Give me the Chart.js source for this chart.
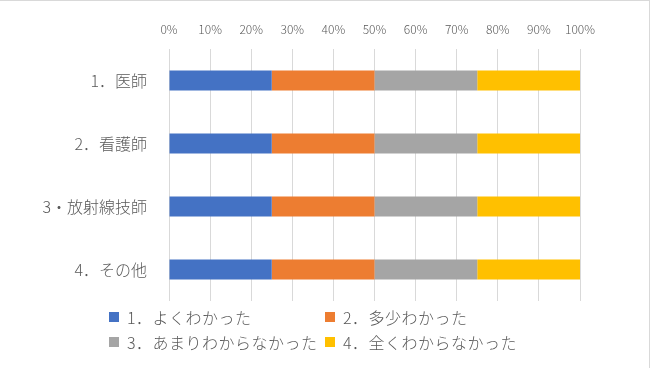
<!DOCTYPE html>
<html>
<head>
<meta charset="utf-8">
<script src="https://cdn.jsdelivr.net/npm/chart.js@4"></script>
<style>
  body { margin: 0; background: #fff; }
  #wrap { position: relative; width: 650px; height: 368px; box-sizing: border-box; border-top: 1px solid #d9d9d9; border-right: 1px solid #d9d9d9; }
  #legend { position: absolute; left: 109px; top: 306px; display: grid; grid-template-columns: 216px 216px; row-gap: 5px;
    font-family: "Noto Sans CJK JP", sans-serif; font-size: 16px; font-weight: 300; letter-spacing: 0.5px; color: #595959; }
  .item { display: flex; align-items: center; height: 20px; white-space: nowrap; }
  .box { width: 10px; height: 10px; margin-right: 8px; flex: none; }
</style>
</head>
<body>
<div id="wrap">
  <canvas id="chart" width="650" height="368"></canvas>
  <div id="legend"></div>
</div>
<script>
const categories = ["1．医師", "2．看護師", "3・放射線技師", "4．その他"];
const seriesNames = ["1．よくわかった", "2．多少わかった", "3．あまりわからなかった", "4．全くわからなかった"];
const wellUnderstood = [25, 25, 25, 25];
const somewhatUnderstood = [25, 25, 25, 25];
const notReallyUnderstood = [25, 25, 25, 25];
const notAtAllUnderstood = [25, 25, 25, 25];
const tickValues = [0, 10, 20, 30, 40, 50, 60, 70, 80, 90, 100];

const colors = ["#4472C4", "#ED7D31", "#A5A5A5", "#FFC000"];
const seriesValues = [wellUnderstood, somewhatUnderstood, notReallyUnderstood, notAtAllUnderstood];
const fontFamily = '"Noto Sans CJK JP", sans-serif';

const datasets = seriesValues.map((vals, i) => ({
  label: seriesNames[i],
  data: vals,
  backgroundColor: colors[i],
  borderWidth: 0,
  categoryPercentage: 1,
  barPercentage: 0.32
}));

new Chart(document.getElementById("chart"), {
  type: "bar",
  data: { labels: categories, datasets: datasets },
  options: {
    indexAxis: "y",
    responsive: false,
    animation: false,
    layout: { padding: { top: 0, left: 0, right: 70, bottom: 68 } },
    plugins: { legend: { display: false }, tooltip: { enabled: false } },
    scales: {
      x: {
        position: "top",
        stacked: true,
        min: 0,
        max: 100,
        afterBuildTicks: (scale) => { scale.ticks = tickValues.map(v => ({ value: v })); },
        afterFit: (scale) => { scale.height = 48; },
        border: { display: false },
        grid: { color: "#d9d9d9", drawTicks: false },
        ticks: {
          padding: 12,
          color: "#595959",
          font: { family: fontFamily, size: 12, weight: 300 },
          callback: (v) => v + "%"
        }
      },
      y: {
        stacked: true,
        afterFit: (scale) => { scale.width = 169; },
        border: { display: false },
        grid: { display: false },
        ticks: {
          padding: 14,
          color: "#595959",
          font: { family: fontFamily, size: 16, weight: 300 }
        }
      }
    }
  }
});

const legend = document.getElementById("legend");
seriesNames.forEach((name, i) => {
  const item = document.createElement("div");
  item.className = "item";
  item.innerHTML = '<span class="box" style="background:' + colors[i] + '"></span><span>' + name + '</span>';
  legend.appendChild(item);
});
</script>
</body>
</html>
